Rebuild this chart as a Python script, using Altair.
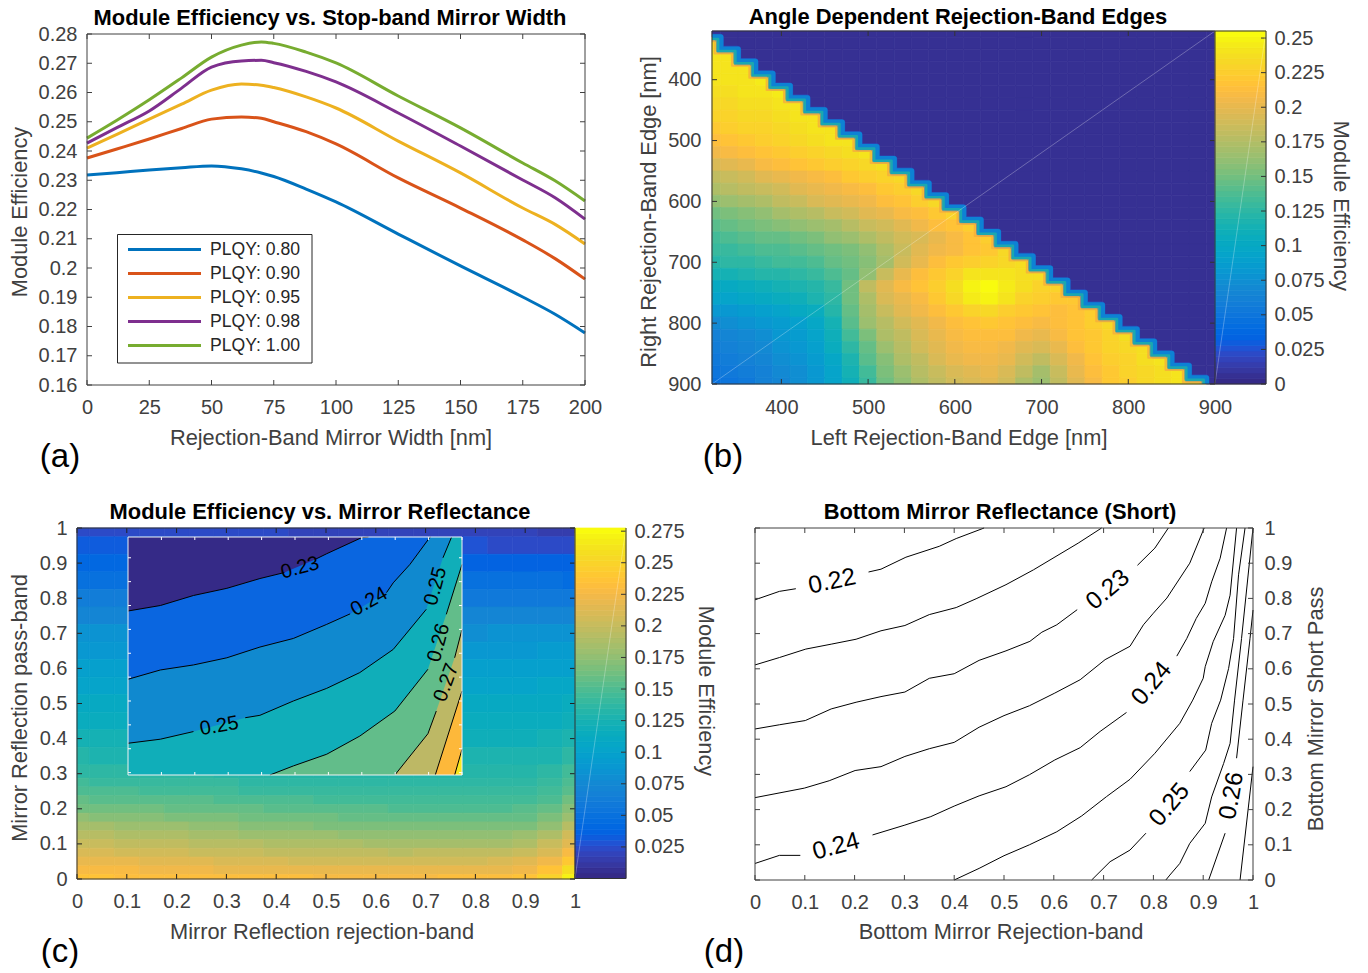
import altair as alt
import pandas as pd

W, H = 1352, 960
FONT = "Liberation Sans"
INK = "#404040"

PARULA = [
(.2081,.1663,.5292),(.2116,.1898,.5777),(.2123,.2138,.6270),(.2081,.2386,.6771),(.1959,.2645,.7279),(.1707,.2919,.7792),
(.1253,.3242,.8303),(.0591,.3598,.8683),(.0117,.3875,.8820),(.0060,.4086,.8828),(.0165,.4266,.8786),(.0329,.4430,.8720),
(.0498,.4586,.8641),(.0629,.4737,.8554),(.0723,.4887,.8467),(.0779,.5040,.8384),(.0793,.5200,.8312),(.0749,.5375,.8263),
(.0641,.5570,.8240),(.0488,.5772,.8228),(.0343,.5966,.8199),(.0265,.6137,.8135),(.0239,.6287,.8038),(.0231,.6418,.7913),
(.0228,.6535,.7768),(.0267,.6642,.7607),(.0384,.6743,.7436),(.0590,.6838,.7254),(.0843,.6928,.7062),(.1133,.7015,.6859),
(.1453,.7098,.6646),(.1801,.7177,.6424),(.2178,.7250,.6193),(.2586,.7317,.5954),(.3022,.7376,.5712),(.3482,.7424,.5473),
(.3953,.7459,.5244),(.4420,.7481,.5033),(.4871,.7491,.4840),(.5300,.7491,.4661),(.5709,.7485,.4494),(.6099,.7473,.4337),
(.6473,.7456,.4188),(.6834,.7435,.4044),(.7184,.7411,.3905),(.7525,.7384,.3768),(.7858,.7356,.3633),(.8185,.7327,.3498),
(.8507,.7299,.3360),(.8824,.7274,.3217),(.9139,.7258,.3063),(.9450,.7261,.2886),(.9739,.7314,.2666),(.9938,.7455,.2403),
(.9990,.7653,.2164),(.9955,.7861,.1967),(.9880,.8066,.1794),(.9789,.8271,.1633),(.9697,.8481,.1475),(.9626,.8705,.1309),
(.9589,.8949,.1132),(.9598,.9218,.0948),(.9661,.9514,.0755),(.9763,.9831,.0538)]
HEX = ["#%02x%02x%02x" % tuple(round(c * 255) for c in p) for p in PARULA]

# ---------- panel (a)
A_X = [0, 12, 25, 38, 50, 62, 70, 75, 88, 100, 125, 150, 175, 188, 200]
A_080 = [.2318,.2326,.2335,.2343,.2349,.2339,.2325,.2313,.2270,.2226,.2116,.2007,.1901,.1842,.1778]
A_090 = [.2376,.2407,.2441,.2477,.2509,.2516,.2512,.2500,.2466,.2424,.2308,.2205,.2096,.2032,.1962]
A_095 = [.2410,.2457,.2509,.2560,.2608,.2629,.2625,.2617,.2585,.2547,.2434,.2325,.2205,.2149,.2082]
A_098 = [.2427,.2480,.2537,.2615,.2687,.2708,.2710,.2702,.2672,.2636,.2530,.2417,.2301,.2240,.2167]
A_100 = [.2444,.2505,.2575,.2650,.2721,.2762,.2773,.2768,.2738,.2701,.2588,.2479,.2359,.2298,.2229]
A_NAMES = ["PLQY: 0.80", "PLQY: 0.90", "PLQY: 0.95", "PLQY: 0.98", "PLQY: 1.00"]
A_COLORS = ["#0072BD", "#D95319", "#EDB120", "#7E2F8E", "#77AC30"]
A_SERIES = [A_080, A_090, A_095, A_098, A_100]

# ---------- panel (b): efficiency x 1000, rows by right edge 320..900 step 20, columns by left edge from 320
B_ROWS = [
[],
[240],
[242,242],
[243,243,243],
[240,242,243,244],
[236,238,240,242,244],
[232,234,236,238,241,243],
[228,230,232,235,238,241,243],
[222,225,228,231,234,238,241,243],
[212,216,220,224,228,232,236,240,243],
[204,208,212,216,220,225,230,234,238,241],
[194,198,203,208,212,216,221,226,230,235,239],
[182,186,191,196,201,206,211,215,220,225,230,235],
[172,176,181,186,191,196,201,206,210,215,220,225,232],
[160,165,170,175,180,186,192,197,202,207,212,218,224,232],
[150,154,158,163,168,173,178,184,190,196,202,208,214,220,228],
[142,145,149,153,157,161,166,171,177,184,191,198,205,212,218,226],
[135,138,141,144,147,151,155,160,166,172,180,188,195,203,210,216,224],
[128,131,133,136,139,142,146,150,155,162,172,185,197,205,211,216,222,232],
[122,125,127,130,132,135,139,144,150,158,170,188,203,212,220,226,231,234,238],
[112,114,117,120,122,125,130,136,145,162,185,200,212,220,230,240,243,240,236,236],
[100,103,106,109,112,117,122,131,150,180,198,208,216,226,238,250,254,245,236,230,228],
[92,95,98,101,104,109,116,126,148,175,192,202,211,221,232,245,250,240,230,224,220,222],
[80,83,87,91,95,100,107,120,145,168,184,196,205,213,222,230,232,226,220,216,214,218,226],
[70,73,77,81,85,90,98,115,140,165,178,188,198,206,212,218,220,218,214,210,212,218,224,232],
[63,67,71,75,80,85,93,110,132,155,172,183,193,201,208,212,214,212,207,203,208,216,223,230,236],
[58,62,66,71,76,82,90,104,125,147,165,178,188,197,204,208,210,206,198,192,200,212,221,228,234,238],
[52,56,61,66,72,78,86,98,118,140,158,172,183,192,200,204,205,200,190,180,192,206,217,225,231,236,240],
[48,52,57,63,69,75,83,94,112,134,152,166,178,187,195,199,200,193,180,170,185,200,213,222,229,234,238,241],
[45,49,54,60,66,73,81,92,108,130,148,162,174,183,190,195,196,188,174,165,180,197,210,220,227,232,237,240,243],
]
B_TICKS = [400, 500, 600, 700, 800, 900]
B_BAR_TICKS = [0, .025, .05, .075, .1, .125, .15, .175, .2, .225, .25]

# ---------- panel (c): efficiency x 1000, columns x=0 .. 1 step .05
C_Y = [1,.95,.9,.85,.8,.75,.7,.65,.6,.55,.5,.45,.4,.35,.3,.275,.25,.225,.2,.175,.15,.125,.1,.075,.05,.025,0]
C_ROWS = [
[24,24,24,23,23,23,22,22,22,21,21,21,20,20,20,19,19,18,18,17,16],
[32,32,31,31,31,30,30,30,29,29,29,28,28,28,27,27,27,26,26,25,24],
[42,42,41,41,41,40,40,40,39,39,39,38,38,38,38,38,38,38,37,37,36],
[52,52,51,51,51,50,50,50,50,49,49,49,49,49,49,49,49,48,48,48,47],
[62,62,62,61,61,61,60,60,60,60,59,59,59,59,60,60,60,60,60,60,59],
[73,73,72,72,72,71,71,70,70,70,70,70,70,70,71,71,71,71,71,71,71],
[84,84,83,83,83,82,82,81,81,81,81,81,81,81,82,82,82,83,83,83,83],
[91,90,90,89,89,89,88,88,88,88,88,88,88,89,89,90,90,91,91,92,92],
[97,97,96,96,95,95,95,94,94,94,94,94,95,95,96,96,97,97,98,98,99],
[104,103,103,102,102,101,101,101,101,101,101,101,102,102,102,103,103,104,104,105,106],
[110,110,109,109,108,108,107,107,107,107,107,107,108,108,108,109,109,110,110,111,113],
[117,116,116,115,115,114,114,113,113,113,113,113,113,114,114,114,115,115,116,117,120],
[123,123,122,122,121,121,120,120,119,119,119,119,119,120,120,120,120,121,121,123,127],
[131,130,130,129,129,128,127,127,126,126,126,126,126,126,126,126,127,127,128,130,135],
[138,138,137,136,135,135,134,134,133,133,132,132,132,132,132,132,132,133,134,137,145],
[144,143,142,141,140,140,139,138,138,137,136,136,136,136,136,135,135,136,137,141,150],
[150,149,148,147,146,145,144,143,143,142,141,141,140,140,140,139,139,139,141,145,156],
[157,156,155,154,153,152,151,150,149,148,147,147,146,145,145,144,144,144,146,151,163],
[164,163,162,161,160,159,158,157,156,155,154,153,152,151,150,150,149,149,152,158,170],
[174,173,172,170,169,167,166,164,163,162,161,160,159,158,157,157,157,157,160,167,181],
[185,184,182,180,178,176,174,172,171,170,169,168,167,166,165,165,165,165,168,176,192],
[194,192,190,188,187,185,183,181,180,179,178,177,176,175,175,175,175,175,179,188,204],
[202,200,199,197,196,194,192,191,190,189,188,187,186,185,185,185,185,186,190,200,215],
[211,209,208,206,205,203,202,200,199,198,197,197,196,195,196,196,196,197,201,212,229],
[220,219,218,216,214,213,212,210,209,208,207,207,206,206,207,207,208,209,213,225,242],
[228,227,226,225,223,222,221,220,219,219,218,218,217,217,218,218,219,220,224,236,256],
[235,235,234,233,232,232,231,231,230,230,229,229,229,229,229,230,230,232,236,248,272],
]
UNIT = [0, .1, .2, .3, .4, .5, .6, .7, .8, .9, 1]
C_BAR_TICKS = [.025, .05, .075, .1, .125, .15, .175, .2, .225, .25, .275]

# ---------- inset of panel (c): contours as (x, y, piece)
I_23 = [(.90,.0677,0),(.9097,.0700,0),(.9196,.0742,0),(.9296,.0772,0),(.9395,.0813,0),(.9468,.0838,0),(.9560,.0893,1),(.9595,.0917,1),(.9699,.0984,1),(.9720,.0987,1)]
I_24 = [(.90,.0391,0),(.9097,.0430,0),(.9196,.0451,0),(.9296,.0481,0),(.9395,.0526,0),(.9495,.0562,0),(.9595,.0621,0),(.9665,.0665,0),(.9774,.0754,1),(.9794,.0795,1),(.9844,.0872,1),(.9903,.0984,1),(.9906,.0987,1)]
I_25 = [(.90,.0123,0),(.9097,.0140,0),(.9196,.0172,0),(.9351,.0230,1),(.9395,.0240,1),(.9495,.0300,1),(.9595,.0353,1),(.9694,.0419,1),(.9794,.0516,1),(.9893,.0684,1),(.9943,.0900,2),(.9968,.0984,2),(.9970,.0987,2)]
I_26 = [(.90,-.001,3),(.9425,-.001,0),(.9495,.0028,0),(.9595,.0077,0),(.9694,.0153,0),(.9799,.0258,0),(.9898,.0433,0),(.9953,.0663,1),(1.0,.0872,1)]
I_27 = [(.90,-.001,3),(.9799,-.001,0),(.9898,.0163,0),(.9923,.0258,0),(.9978,.0481,1),(1.0,.0600,1)]
I_28 = [(.90,-.001,3),(.9920,-.001,0),(1.0,.0342,0)]
I_29 = [(.90,-.001,3),(.9978,-.001,0),(1.0,.0098,0)]
I_BANDS = [(I_29,"#fdb83a"),(I_28,"#bdb865"),(I_27,"#62bd8a"),(I_26,"#10aeb9"),(I_25,"#1089cf"),(I_24,"#0a66e0"),(I_23,"#352a87")]
I_XT = [.91,.92,.93,.94,.95,.96,.97,.98,.99,1.0]
I_YT = [0,.01,.02,.03,.04,.05,.06,.07,.08,.09]
I_LABELS = [(.9273,.0195,"0.25",350),(.9722,.0716,"0.24",330),(.9515,.0858,"0.23",345),(.9921,.0781,"0.25",285),(.9930,.0544,"0.26",285),(.9953,.0377,"0.27",290)]

# ---------- panel (d): contours as (x, y, piece)
D_LINES = [
[(0,.796,0),(.049,.82,0),(.082,.8275,0),(.228,.875,1),(.253,.883,1),(.303,.917,1),(.37,.948,1),(.404,.970,1),(.46,1.0,1)],
[(0,.611,0),(.049,.632,0),(.102,.656,0),(.153,.670,0),(.203,.684,0),(.253,.708,0),(.301,.723,0),(.35,.754,0),(.404,.774,0),(.444,.799,0),(.504,.839,0),(.559,.881,0),(.649,.957,0),(.696,1.0,0)],
[(0,.429,0),(.049,.441,0),(.101,.453,0),(.153,.486,0),(.203,.505,0),(.253,.521,0),(.301,.534,0),(.35,.573,0),(.40,.586,0),(.45,.624,0),(.504,.651,0),(.552,.678,0),(.576,.704,0),(.606,.725,0),(.647,.768,0),(.768,.894,1),(.803,.943,1),(.83,1.0,1)],
[(0,.234,0),(.099,.261,0),(.149,.282,0),(.201,.311,0),(.253,.322,0),(.301,.351,0),(.35,.373,0),(.40,.391,0),(.45,.434,0),(.50,.467,0),(.551,.495,0),(.602,.531,0),(.653,.569,0),(.703,.626,0),(.753,.664,0),(.780,.725,0),(.80,.758,0),(.827,.801,0),(.873,.90,0),(.902,1.0,0)],
[(0,.047,0),(.049,.070,0),(.091,.070,0),(.236,.128,1),(.301,.156,1),(.353,.180,1),(.40,.21,1),(.45,.239,1),(.504,.265,1),(.551,.299,1),(.602,.341,1),(.653,.376,1),(.693,.422,1),(.746,.476,1),(.847,.636,2),(.867,.686,2),(.886,.743,2),(.904,.786,2),(.917,.847,2),(.934,.914,2),(.947,1.0,2)],
[(.40,0,0),(.45,.033,0),(.50,.069,0),(.551,.10,0),(.606,.137,0),(.656,.182,0),(.706,.237,0),(.753,.286,0),(.803,.36,0),(.853,.445,0),(.879,.511,0),(.900,.573,0),(.904,.606,0),(.92,.677,0),(.944,.752,0),(.954,.809,0),(.967,1.0,0)],
[(.676,0,0),(.713,.052,0),(.753,.085,0),(.785,.133,0),(.873,.308,1),(.905,.369,1),(.917,.445,1),(.935,.511,1),(.951,.601,1),(.961,.686,1),(.971,.867,1),(.984,1.0,1)],
[(.825,0,0),(.833,.014,0),(.853,.047,0),(.873,.104,0),(.904,.161,0),(.917,.236,0),(.941,.331,0),(.954,.388,0),(.963,.511,0),(.977,.686,0),(1.0,1.0,0)],
[(.911,0,0),(.944,.133,0),(.967,.346,1),(.980,.511,1),(.994,.686,1),(1.0,.767,1)],
[(.974,0,0),(1.0,.322,0)],
]
D_LABELS = [(.155,.847,"0.22",348),(.709,.824,"0.23",320),(.797,.557,"0.24",310),(.163,.094,"0.24",345),(.833,.213,"0.25",310),(.958,.239,"0.26",280)]

# ---------- text: (text, centre x, centre y in page pixels, size, bold, angle)
TEXTS = [
("Module Efficiency vs. Stop-band Mirror Width",330,17.5,21.9,True,0),
("Rejection-Band Mirror Width [nm]",331,437.5,21.8,False,0),
("Module Efficiency",20,212,21.8,False,270),
("(a)",60,457,33,False,0),
("Angle Dependent Rejection-Band Edges",958,17,21.9,True,0),
("Left Rejection-Band Edge [nm]",959,437.5,21.8,False,0),
("Right Rejection-Band Edge [nm]",649,212,21.8,False,270),
("Module Efficiency",1341,206,21.8,False,90),
("(b)",723,457,33,False,0),
("Module Efficiency vs. Mirror Reflectance",320,511.5,21.9,True,0),
("Mirror Reflection rejection-band",322,931.5,21.8,False,0),
("Mirror Reflection pass-band",19.5,708,21.8,False,270),
("Module Efficiency",706,691,21.8,False,90),
("(c)",60,952,33,False,0),
("Bottom Mirror Reflectance (Short)",1000,511.5,21.9,True,0),
("Bottom Mirror Rejection-band",1001,931.5,21.8,False,0),
("Bottom Mirror Short Pass",1316,709,21.8,False,270),
("(d)",724,952,33,False,0),
]

ONE = alt.Data(values=[{"a": 1}])

def xs(domain, rng):
    return alt.Scale(domain=domain, range=rng, nice=False, zero=False)

def axis(orient, offset, values, pad, fmt=".6~r", size=20, color=INK):
    return alt.Axis(orient=orient, offset=offset, values=values, format=fmt, title=None, grid=False,
                    domain=False, ticks=False, labelPadding=pad, labelFontSize=size, labelColor=color,
                    labelFont=FONT, labelOverlap=False, labelFlush=False, labelBound=False)

def ticks(xscale, yscale, xvals, yvals, box, color=INK, length=5, sides="lrtb"):
    x0, x1, y0, y1 = box   # chart px: left, right, top, bottom
    out = []
    xdf = pd.DataFrame({"v": xvals})
    ydf = pd.DataFrame({"v": yvals})
    if xvals:
        for edge, inner, s in ((y1, y1 - length, "b"), (y0, y0 + length, "t")):
            if s in sides:
                out.append(alt.Chart(xdf).mark_rule(color=color, strokeWidth=1).encode(
                    x=alt.X("v:Q", scale=xscale, axis=None), y=alt.value(edge), y2=alt.value(inner)))
    if yvals:
        for edge, inner, s in ((x0, x0 + length, "l"), (x1, x1 - length, "r")):
            if s in sides:
                out.append(alt.Chart(ydf).mark_rule(color=color, strokeWidth=1).encode(
                    y=alt.Y("v:Q", scale=yscale, axis=None), x=alt.value(edge), x2=alt.value(inner)))
    return out

def frame(x0, x1, y0, y1, color=INK, width=1):
    return alt.Chart(ONE).mark_rect(fillOpacity=0, stroke=color, strokeWidth=width).encode(
        x=alt.value(x0), x2=alt.value(x1), y=alt.value(y0), y2=alt.value(y1))

def heat(df, xscale, yscale, dom, xax=None, yax=None):
    cs = alt.Scale(type="quantize", domain=[0, dom], range=HEX)
    return alt.Chart(df).mark_rect(strokeWidth=0.7).encode(
        x=alt.X("x0:Q", scale=xscale, axis=xax), x2="x1:Q",
        y=alt.Y("y0:Q", scale=yscale, axis=yax), y2="y1:Q",
        color=alt.Color("v:Q", scale=cs, legend=None),
        stroke=alt.Stroke("v:Q", scale=cs, legend=None))

def colorbar(dom, x0, x1, yscale, yax):
    n = len(HEX)
    df = pd.DataFrame({"y0": [dom * i / n for i in range(n)], "y1": [dom * (i + 1) / n for i in range(n)],
                       "c": HEX})
    return alt.Chart(df).mark_rect(strokeWidth=0.7).encode(
        x=alt.value(x0), x2=alt.value(x1),
        y=alt.Y("y0:Q", scale=yscale, axis=yax), y2="y1:Q",
        color=alt.Color("c:N", scale=None), stroke=alt.Stroke("c:N", scale=None))

def streak(x0, y0, x1, y1):
    return alt.Chart(ONE).mark_rule(color="white", strokeWidth=0.7, opacity=0.4).encode(
        x=alt.value(x0), y=alt.value(y0), x2=alt.value(x1), y2=alt.value(y1))

def contour(lines, xscale, yscale, width=1):
    rows = []
    for k, line in enumerate(lines):
        for i, (x, y, p) in enumerate(line):
            if p != 3:
                rows.append({"x": x, "y": y, "s": f"{k}-{p}", "i": i})
    return alt.Chart(pd.DataFrame(rows)).mark_line(color="black", strokeWidth=width).encode(
        x=alt.X("x:Q", scale=xscale, axis=None), y=alt.Y("y:Q", scale=yscale, axis=None),
        detail="s:N", order="i:Q")

def labels(items, xscale, yscale, size):
    out = []
    for x, y, t, ang in items:
        out.append(alt.Chart(pd.DataFrame({"x": [x], "y": [y], "t": [t]})).mark_text(
            font=FONT, fontSize=size, color="black", angle=ang, align="center", baseline="middle").encode(
            x=alt.X("x:Q", scale=xscale, axis=None), y=alt.Y("y:Q", scale=yscale, axis=None), text="t:N"))
    return out

layers = []

# ---- panel a
ax0, ax1, ay0, ay1 = 79, 577, 26, 377
a_x = xs([0, 200], [ax0, ax1]); a_y = xs([.16, .28], [ay1, ay0])
a_xt = [0, 25, 50, 75, 100, 125, 150, 175, 200]
a_yt = [.16, .17, .18, .19, .2, .21, .22, .23, .24, .25, .26, .27, .28]
a_rows = [{"x": x, "y": y, "s": n} for n, ser in zip(A_NAMES, A_SERIES) for x, y in zip(A_X, ser)]
layers.append(alt.Chart(pd.DataFrame(a_rows)).mark_line(strokeWidth=3, interpolate="monotone").encode(
    x=alt.X("x:Q", scale=a_x, axis=axis("bottom", ay1 - H, a_xt, 12)),
    y=alt.Y("y:Q", scale=a_y, axis=axis("left", -ax0, a_yt, 10)),
    color=alt.Color("s:N", scale=alt.Scale(domain=A_NAMES, range=A_COLORS), legend=None)))
layers += ticks(a_x, a_y, a_xt, a_yt, (ax0, ax1, ay0, ay1))
layers.append(frame(ax0, ax1, ay0, ay1))
# legend
layers.append(alt.Chart(ONE).mark_rect(fill="white", stroke="#262626", strokeWidth=1).encode(
    x=alt.value(109.5), x2=alt.value(304), y=alt.value(226.5), y2=alt.value(355)))
leg = pd.DataFrame({"t": A_NAMES, "c": A_COLORS, "p": [241.5, 265.5, 289.5, 313.5, 337.5]})
layers.append(alt.Chart(leg).mark_rule(strokeWidth=3).encode(
    x=alt.value(120), x2=alt.value(193), y=alt.Y("p:Q", scale=None), color=alt.Color("c:N", scale=None)))
layers.append(alt.Chart(leg).mark_text(font=FONT, fontSize=17.6, color="#262626", align="left", baseline="middle").encode(
    x=alt.value(202), y=alt.Y("p:Q", scale=None), text="t:N"))

# ---- panel b
bx0, bx1, bx2, by0, by1 = 704, 1207, 1258, 23, 376
b_x = xs([320, 900], [bx0, bx1]); b_y = xs([320, 900], [by0, by1])
b_rows = []
for r, row in enumerate(B_ROWS):
    yc = 320 + 20 * r
    for c in range(30):
        xc = 320 + 20 * c
        v = row[c] if c < len(row) else 4
        b_rows.append({"x0": max(xc - 10, 320), "x1": min(xc + 10, 900), "y0": max(yc - 10, 320),
                       "y1": min(yc + 10, 900), "v": v / 1000})
B_DOM = .2551
layers.append(heat(pd.DataFrame(b_rows), b_x, b_y, B_DOM,
                   axis("bottom", by1 - H, B_TICKS, 13), axis("left", -bx0, B_TICKS, 11)))
# soft stepped fringe along the edge of the filled triangle, blue on the dark side, orange on the warm side
edge = [{"x": 320, "y": 330}]
for r in range(1, len(B_ROWS)):
    yc = 320 + 20 * r
    edge.append({"x": yc - 10, "y": yc - 10})
    edge.append({"x": yc - 10, "y": min(yc + 10, 900)})
edge = pd.DataFrame(edge); edge["i"] = range(len(edge))
for col, wid, shift, op in (("#1f5ed8", 8, 1, .55), ("#0d82d4", 5.5, 0, 1), ("#1aa8b0", 2.5, 3, 1), ("#f5ae3c", 2, 7, .8)):
    sh = edge.copy()
    sh["x"] = (sh["x"] - shift).clip(320, 900)
    sh["y"] = (sh["y"] + shift).clip(320, 900)
    layers.append(alt.Chart(sh).mark_line(color=col, strokeWidth=wid, strokeJoin="round", opacity=op).encode(
        x=alt.X("x:Q", scale=b_x, axis=None), y=alt.Y("y:Q", scale=b_y, axis=None), order="i:Q"))
layers += ticks(b_x, b_y, B_TICKS, B_TICKS, (bx0, bx1, by0, by1), color="#333333")
bar_b = xs([0, B_DOM], [by1, by0])
layers.append(colorbar(B_DOM, bx1, bx2, bar_b, axis("right", bx2 - W, B_BAR_TICKS, 8)))
layers += ticks(a_x, bar_b, [], B_BAR_TICKS, (bx1, bx2, by0, by1), color="#333333", sides="r")
layers.append(streak(bx0, by1, bx1, by0))
layers.append(streak(bx1, by1, bx2, by0))
layers.append(frame(bx0, bx2, by0, by1, color="#333333"))
layers.append(alt.Chart(ONE).mark_rule(color="#333333", strokeWidth=1).encode(
    x=alt.value(bx1), y=alt.value(by0), y2=alt.value(by1)))

# ---- panel c
cx0, cx1, cx2, cy0, cy1 = 69, 567, 618, 520, 871
c_x = xs([0, 1], [cx0, cx1]); c_y = xs([0, 1], [cy1, cy0])
c_rows = []
for r, row in enumerate(C_ROWS):
    yc = C_Y[r]
    top = 1 if r == 0 else (C_Y[r - 1] + yc) / 2
    bot = 0 if r == len(C_Y) - 1 else (C_Y[r + 1] + yc) / 2
    for c, v in enumerate(row):
        xc = .05 * c
        c_rows.append({"x0": max(xc - .025, 0), "x1": min(xc + .025, 1), "y0": bot, "y1": top, "v": v / 1000})
C_DOM = .2775
layers.append(heat(pd.DataFrame(c_rows), c_x, c_y, C_DOM,
                   axis("bottom", cy1 - H, UNIT, 12), axis("left", -cx0, UNIT, 10)))
layers += ticks(c_x, c_y, UNIT, UNIT, (cx0, cx1, cy0, cy1), color="#222222")
bar_c = xs([0, C_DOM], [870.5, cy0])
layers.append(colorbar(C_DOM, cx1, cx2, bar_c, axis("right", cx2 - W, C_BAR_TICKS, 8)))
layers += ticks(a_x, bar_c, [], C_BAR_TICKS, (cx1, cx2, cy0, 870.5), color="#333333", sides="r")
layers.append(streak(cx1, 870.5, cx2, cy0))
layers.append(frame(cx0, cx1, cy0, cy1, color="#333333"))
layers.append(alt.Chart(ONE).mark_rule(color="#333333", strokeWidth=1).encode(
    x=alt.value(cx2), y=alt.value(cy0), y2=alt.value(870.5)))
layers.append(alt.Chart(ONE).mark_rule(color="#333333", strokeWidth=1).encode(
    x=alt.value(cx1), x2=alt.value(cx2), y=alt.value(870.5)))

# inset
ix0, ix1, iy0, iy1 = 120, 454, 529, 767
i_x = xs([.90, 1.0], [ix0, ix1]); i_y = xs([-.001, .0987], [iy1, iy0])
layers.append(alt.Chart(ONE).mark_rect(fill="#f9e71e").encode(
    x=alt.value(ix0), x2=alt.value(ix1), y=alt.value(iy0), y2=alt.value(iy1)))
first = True
for band, col in I_BANDS:
    df = pd.DataFrame({"x": [p[0] for p in band], "y": [p[1] for p in band]})
    df["top"] = .0987
    xax = axis("bottom", iy1 - H, I_XT, 9, ".2f", 14, "#f2f2f2") if first else None
    yax = axis("left", -ix0, I_YT, 7, ".2f", 14, "#f2f2f2") if first else None
    layers.append(alt.Chart(df).mark_area(color=col, interpolate="linear", orient="vertical").encode(
        x=alt.X("x:Q", scale=i_x, axis=xax), y=alt.Y("y:Q", scale=i_y, axis=yax), y2="top:Q"))
    first = False
layers.append(contour([I_23, I_24, I_25, I_26, I_27, I_28, I_29], i_x, i_y))
layers += labels(I_LABELS, i_x, i_y, 20)
layers += ticks(i_x, i_y, I_XT, I_YT, (ix0, ix1, iy0, iy1), color="white", length=3)
layers.append(frame(ix0, ix1, iy0, iy1, color="#f2f2f2"))

# ---- panel d
dx0, dx1, dy0, dy1 = 747, 1245, 520, 872
d_x = xs([0, 1], [dx0, dx1]); d_y = xs([0, 1], [dy1, dy0])
layers.append(alt.Chart(pd.DataFrame({"x": [0, 1], "y": [0, 1]})).mark_point(opacity=0).encode(
    x=alt.X("x:Q", scale=d_x, axis=axis("bottom", dy1 - H, UNIT, 12)),
    y=alt.Y("y:Q", scale=d_y, axis=axis("right", dx1 - W, UNIT, 11))))
layers.append(contour(D_LINES, d_x, d_y))
layers += labels(D_LABELS, d_x, d_y, 24.5)
layers += ticks(d_x, d_y, UNIT, UNIT, (dx0, dx1, dy0, dy1))
layers.append(frame(dx0, dx1, dy0, dy1))

# ---- text
for t, px, py, size, bold, ang in TEXTS:
    layers.append(alt.Chart(ONE).mark_text(text=t, font=FONT, fontSize=size, angle=ang,
                                           fontWeight="bold" if bold else "normal",
                                           color="black" if (bold or t.startswith("(")) else INK,
                                           align="center", baseline="middle").encode(
        x=alt.value(px - 8), y=alt.value(py - 8)))

chart = alt.layer(*layers).properties(
    width=W, height=H, padding=0, autosize=alt.AutoSizeParams(type="none"),
).resolve_scale(x="independent", y="independent", color="independent", stroke="independent"
).configure_view(stroke=None)

chart.save("out.html", embed_options={"renderer": "svg", "actions": False})
